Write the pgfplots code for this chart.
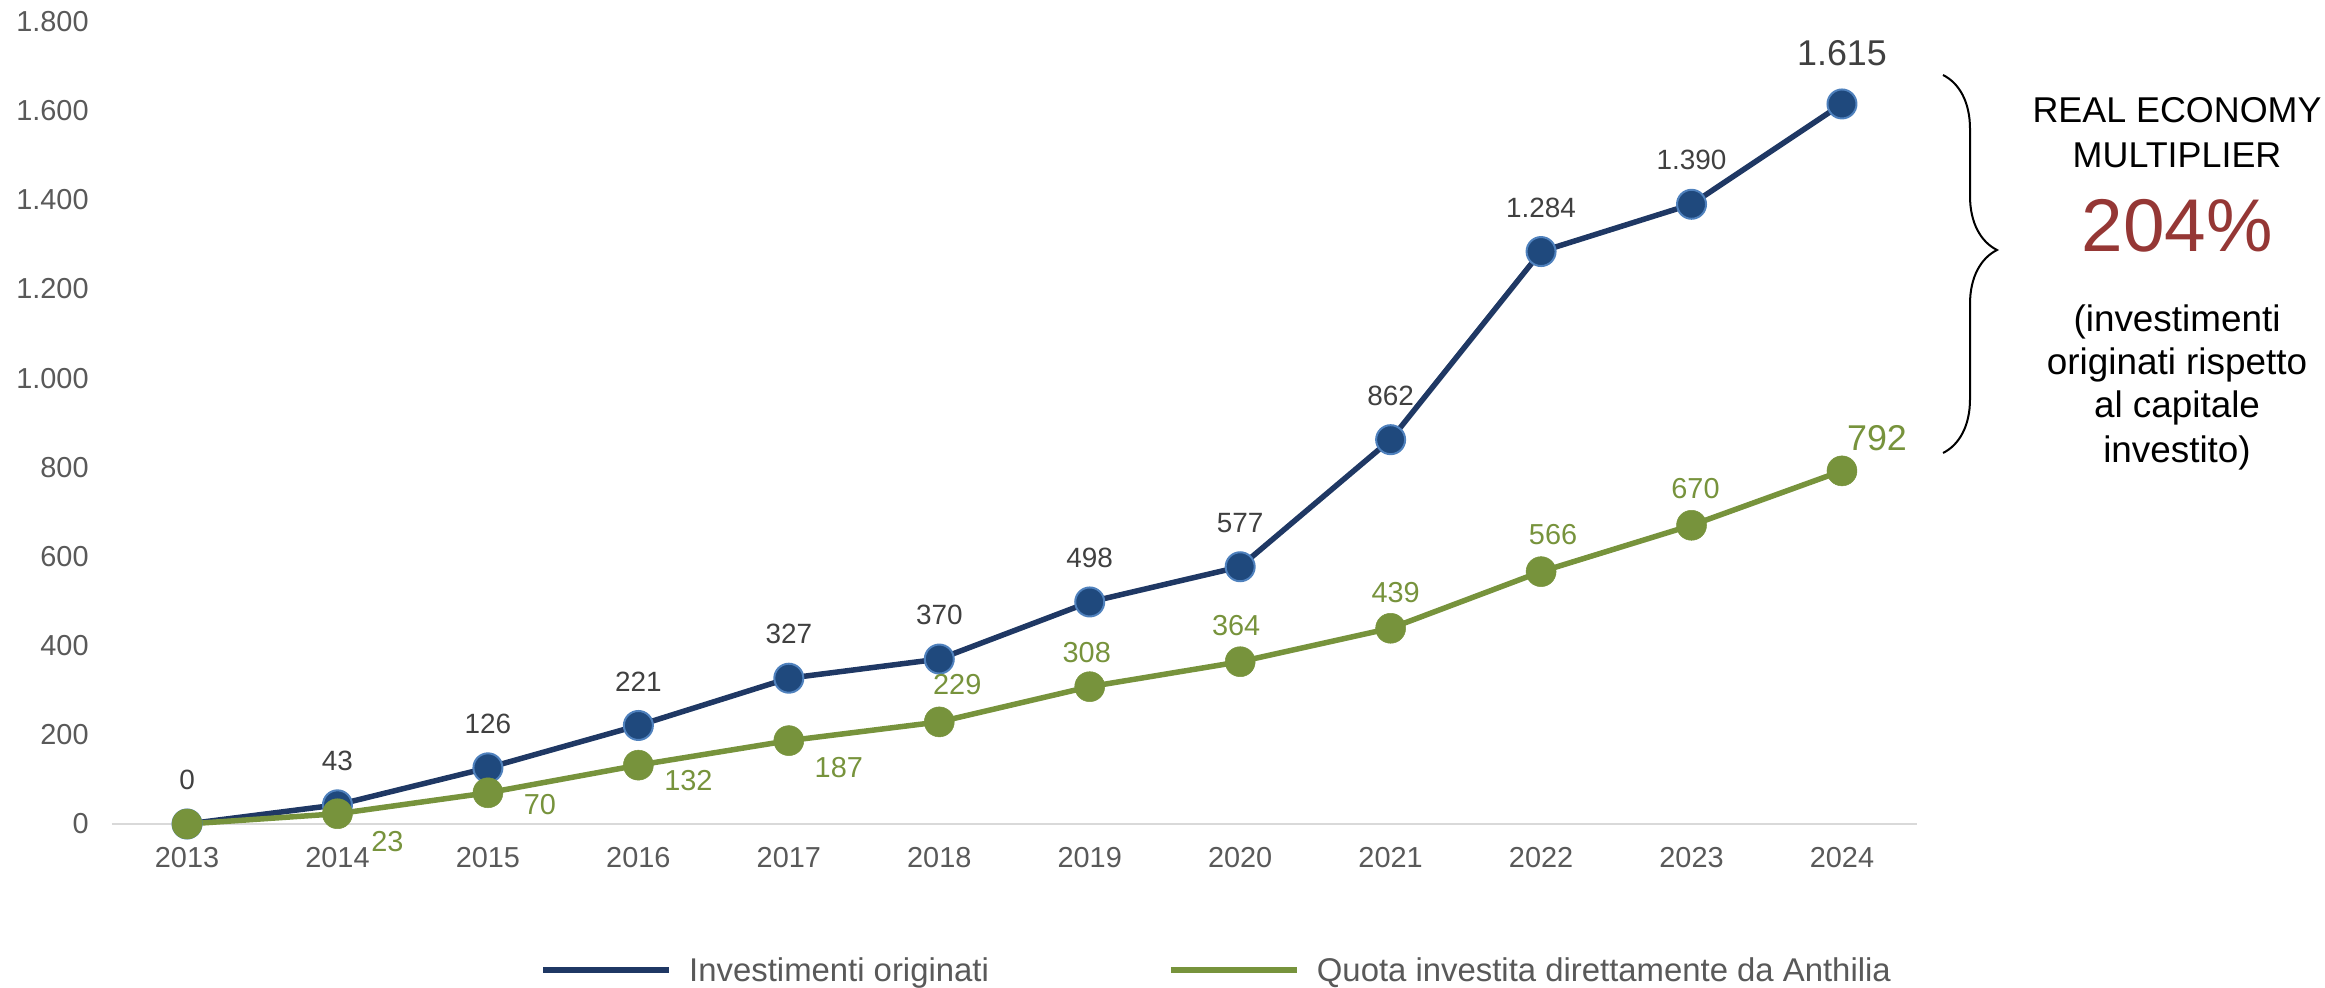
\documentclass[border=0pt]{standalone}
\usepackage{fontspec}
\setmainfont{Liberation Sans}
\usepackage{pgfplots}
\usepackage{pgfplotstable}
\pgfplotsset{compat=1.18}
\usetikzlibrary{decorations.pathreplacing}
\definecolor{navyline}{HTML}{1F3864}
\definecolor{navyfill}{HTML}{1F497D}
\definecolor{navyedge}{HTML}{4F81BD}
\definecolor{olive}{HTML}{77933C}
\definecolor{ticktxt}{HTML}{595959}
\definecolor{lbl}{HTML}{404040}
\definecolor{axisgray}{HTML}{D9D9D9}
\definecolor{mred}{HTML}{953735}

\pgfplotstableread{
x y dx dy
0 0 0 44
1 43 0 44
2 126 0 44
3 221 0 44
4 327 0 44
5 370 0 44
6 498 0 44
7 577 0 44
8 862 0 44
9 1284 0 44
10 1390 0 44
11 1615 0 51
}\blueT

\pgfplotstableread{
x y dx dy
0 0 0 0
1 23 50 -28
2 70 52 -12
3 132 50 -15
4 187 50 -27
5 229 18 37
6 308 -3 34
7 364 -4 36
8 439 5 36
9 566 12 37
10 670 4 37
11 792 35 33
}\greenT

\begin{document}
\begin{tikzpicture}
\useasboundingbox (0bp,0bp) rectangle (2325bp,988bp);
\begin{axis}[
  at={(111.8bp,164bp)}, anchor=south west,
  scale only axis, width=1805.4bp, height=802.5bp,
  xmin=-0.5, xmax=11.5, ymin=0, ymax=1800,
  clip=false,
  axis lines*=left,
  y axis line style={draw=none},
  x axis line style={draw=axisgray, line width=2bp, -},
  tick style={draw=none},
  major tick length=0pt,
  xtick={0,1,2,3,4,5,6,7,8,9,10,11},
  xticklabels={2013,2014,2015,2016,2017,2018,2019,2020,2021,2022,2023,2024},
  ytick={0,200,400,600,800,1000,1200,1400,1600,1800},
  xticklabel style={font=\fontsize{29}{35}\selectfont, text=ticktxt, anchor=center, inner sep=0pt, yshift=-34bp},
  yticklabel style={font=\fontsize{29}{35}\selectfont, text=ticktxt, anchor=east, inner sep=0pt, xshift=-23bp},
  legend columns=2,
  legend style={at={(0.2372,-0.1819)}, anchor=west, draw=none, fill=none, inner sep=0pt,
    font=\fontsize{33}{40}\selectfont, text=ticktxt,
    nodes={inner sep=0pt},
    /tikz/every odd column/.append style={column sep=17bp},
    /tikz/every even column/.append style={column sep=179bp}},
  legend image code/.code={\draw[#1, mark=none, line width=6bp] (0bp,0bp) -- (126bp,0bp);},
  /pgf/number format/1000 sep={.},
  /pgf/number format/assume math mode=true,
]
\addplot[navyline, line width=5.5bp, mark=*, mark size=14.5bp,
  mark options={fill=navyfill, draw=navyedge, line width=2bp}]
  table[x=x,y=y] {\blueT};
\addlegendentry{Investimenti originati}
\addplot[olive, line width=5.5bp, mark=*, mark size=15bp,
  mark options={fill=olive, draw=olive, line width=0.5bp}]
  table[x=x,y=y] {\greenT};
\addlegendentry{Quota investita direttamente da Anthilia}

% labels
\addplot[draw=none, mark=none, forget plot, restrict x to domain=0:10,
  nodes near coords,
  visualization depends on={\thisrow{dx}\as\dx},
  visualization depends on={\thisrow{dy}\as\dy},
  every node near coord/.append style={anchor=center, inner sep=0pt, xshift=\dx bp, yshift=\dy bp, text=lbl, font=\fontsize{28}{34}\selectfont}]
  table[x=x,y=y] {\blueT};
\addplot[draw=none, mark=none, forget plot, restrict x to domain=10.5:11.5,
  nodes near coords,
  visualization depends on={\thisrow{dx}\as\dx},
  visualization depends on={\thisrow{dy}\as\dy},
  every node near coord/.append style={anchor=center, inner sep=0pt, xshift=\dx bp, yshift=\dy bp, text=lbl, font=\fontsize{36}{42}\selectfont}]
  table[x=x,y=y] {\blueT};
\addplot[draw=none, mark=none, forget plot, restrict x to domain=0.5:10.5,
  nodes near coords,
  visualization depends on={\thisrow{dx}\as\dx},
  visualization depends on={\thisrow{dy}\as\dy},
  every node near coord/.append style={anchor=center, inner sep=0pt, xshift=\dx bp, yshift=\dy bp, text=olive, font=\fontsize{29}{34}\selectfont}]
  table[x=x,y=y] {\greenT};
\addplot[draw=none, mark=none, forget plot, restrict x to domain=10.5:11.5,
  nodes near coords,
  visualization depends on={\thisrow{dx}\as\dx},
  visualization depends on={\thisrow{dy}\as\dy},
  every node near coord/.append style={anchor=center, inner sep=0pt, xshift=\dx bp, yshift=\dy bp, text=olive, font=\fontsize{36}{42}\selectfont}]
  table[x=x,y=y] {\greenT};
\end{axis}

\draw[decorate, decoration={brace, amplitude=54bp, aspect=0.463}, line width=2bp]
  (1943bp,913bp) -- (1943bp,535bp);
\node[anchor=base, inner sep=0pt, font=\fontsize{36}{42}\selectfont] at (2177bp,865bp) {REAL ECONOMY};
\node[anchor=base, inner sep=0pt, font=\fontsize{36}{42}\selectfont] at (2177bp,820bp) {MULTIPLIER};
\node[anchor=base, inner sep=0pt, text=mred, font=\fontsize{75}{80}\selectfont] at (2177bp,736bp) {204\%};
\node[anchor=base, inner sep=0pt, font=\fontsize{37}{42}\selectfont] at (2177bp,656bp) {(investimenti};
\node[anchor=base, inner sep=0pt, font=\fontsize{37}{42}\selectfont] at (2177bp,613bp) {originati rispetto};
\node[anchor=base, inner sep=0pt, font=\fontsize{37}{42}\selectfont] at (2177bp,570bp) {al capitale};
\node[anchor=base, inner sep=0pt, font=\fontsize{37}{42}\selectfont] at (2177bp,525bp) {investito)};
\end{tikzpicture}
\end{document}
